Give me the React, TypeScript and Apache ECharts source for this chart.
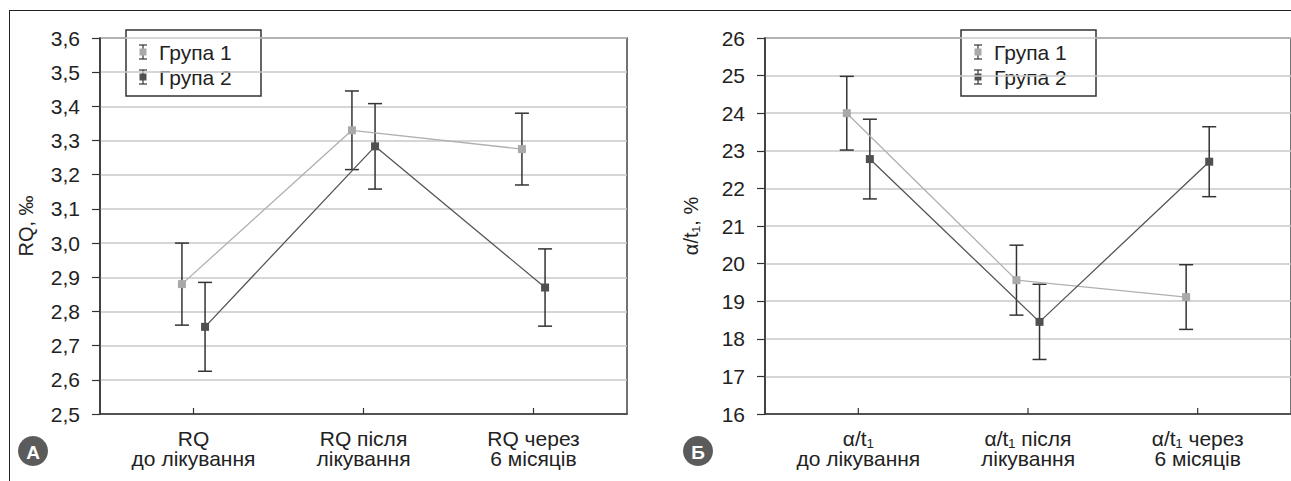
import React, { useEffect, useRef } from "react";
import * as echarts from "echarts";

// ---- data ----
const categoriesA = ["RQ\nдо лікування", "RQ після\nлікування", "RQ через\n6 місяців"];
const categoriesB = ["α/t₁\nдо лікування", "α/t₁ після\nлікування", "α/t₁ через\n6 місяців"];
const seriesNames = ["Група 1", "Група 2"];
const panelLetters = ["А", "Б"];

const rqGroup1 = [2.88, 3.33, 3.275];
const rqGroup1Err = [0.12, 0.115, 0.105];
const rqGroup2 = [2.755, 3.283, 2.87];
const rqGroup2Err = [0.13, 0.125, 0.113];

const atGroup1 = [24.0, 19.56, 19.11];
const atGroup1Err = [0.98, 0.93, 0.86];
const atGroup2 = [22.78, 18.45, 22.71];
const atGroup2Err = [1.06, 1.0, 0.93];

const yTicksA = [2.5, 3.6, 0.1];
const yTicksB = [16, 26, 1];

// ---- styling ----
const FONT = "Liberation Sans, Arial, sans-serif";
const FS = 21;
const TXT = "#222";
const C1 = "#a9a9ab";
const C2 = "#505050";
const L1 = "#b0b0b0";
const L2 = "#555555";
const ERR = "#333";
const OFFSET = 0.068;

const pts = (vals: number[], off: number) => vals.map((v, i) => [i + off, v]);
const errs = (vals: number[], e: number[], off: number) =>
  vals.map((v, i) => [i + off, v - e[i], v + e[i]]);
const tickData = (cats: string[], yMin: number) => cats.map((_, i) => [i, yMin]);

const renderErr = (params: any, api: any) => {
  const x = api.value(0);
  const lo = api.value(1);
  const hi = api.value(2);
  const t = api.coord([x, hi]);
  const b = api.coord([x, lo]);
  const w = 7;
  const style = { stroke: ERR, lineWidth: 1.5 };
  return {
    type: "group",
    children: [
      { type: "line", shape: { x1: t[0], y1: t[1], x2: b[0], y2: b[1] }, style },
      { type: "line", shape: { x1: t[0] - w, y1: t[1], x2: t[0] + w, y2: t[1] }, style },
      { type: "line", shape: { x1: b[0] - w, y1: b[1], x2: b[0] + w, y2: b[1] }, style },
    ],
  };
};

// category tick + label, placed through the axis scales
const makeCatRender = (cats: string[]) => (params: any, api: any) => {
  const p = api.coord([api.value(0), api.value(1)]);
  return {
    type: "group",
    children: [
      {
        type: "line",
        shape: { x1: p[0], y1: p[1], x2: p[0], y2: p[1] - 6 },
        style: { stroke: "#333", lineWidth: 1.2 },
      },
      {
        type: "text",
        x: p[0],
        y: p[1] + 14,
        style: {
          text: cats[params.dataIndex],
          fill: TXT,
          font: `${FS}px ${FONT}`,
          align: "center",
          verticalAlign: "top",
          lineHeight: 20,
        },
      },
    ],
  };
};

const legendGraphic = (x0: number, y0: number) => {
  const children: any[] = [
    {
      type: "rect",
      shape: { x: x0, y: y0, width: 135, height: 66 },
      style: { fill: "#fff", stroke: "#333", lineWidth: 1.5 },
    },
  ];
  const colors = [C1, C2];
  [0, 1].forEach((i) => {
    const cy = y0 + 22 + i * 25;
    const cx = x0 + 17;
    const st = { stroke: ERR, lineWidth: 1.2, fill: "none" };
    children.push(
      { type: "polyline", shape: { points: [[cx - 4, cy - 7], [cx + 4, cy - 7]] }, style: st },
      { type: "polyline", shape: { points: [[cx, cy - 7], [cx, cy + 7]] }, style: st },
      { type: "polyline", shape: { points: [[cx - 4, cy + 7], [cx + 4, cy + 7]] }, style: st },
      { type: "rect", shape: { x: cx - 3.5, y: cy - 3.5, width: 7, height: 7 }, style: { fill: colors[i] } },
      {
        type: "text",
        x: x0 + 33,
        y: cy,
        style: {
          text: seriesNames[i],
          font: `${FS}px ${FONT}`,
          fill: TXT,
          verticalAlign: "middle",
        },
      }
    );
  });
  return children;
};

const badge = (cx: number, cy: number, letter: string) => [
  { type: "circle", z: 100, shape: { cx, cy, r: 15 }, style: { fill: "#5b5b5b" } },
  {
    type: "text",
    z: 101,
    x: cx,
    y: cy + 1,
    style: {
      text: letter,
      fill: "#fff",
      font: `bold 19px ${FONT}`,
      align: "center",
      verticalAlign: "middle",
    },
  },
];

export default function App() {
  const ref = useRef<HTMLDivElement>(null);
  useEffect(() => {
    if (!ref.current) return;
    const chart = echarts.init(ref.current, null, { renderer: "svg" });

    const xAxisBase = (gridIndex: number) => ({
      type: "value",
      gridIndex,
      min: -0.55,
      max: 2.55,
      splitLine: { show: false },
      axisLine: { show: true, onZero: false, lineStyle: { color: "#333", width: 1.5 } },
      axisTick: { show: false },
      axisLabel: { show: false },
    });

    const yAxisBase = (gridIndex: number, r: number[], fmt: (v: number) => string, name: string) => ({
      type: "value",
      gridIndex,
      min: r[0],
      max: r[1],
      interval: r[2],
      name,
      nameLocation: "middle",
      nameGap: 64,
      nameRotate: 90,
      nameTextStyle: { color: TXT, fontFamily: FONT, fontSize: 20 },
      axisLine: { show: true, onZero: false, lineStyle: { color: "#333", width: 1.5 } },
      axisTick: { show: true, length: 8, lineStyle: { color: "#333", width: 1.2 } },
      axisLabel: { color: TXT, fontFamily: FONT, fontSize: FS, margin: 20, formatter: fmt },
      splitLine: { show: true, lineStyle: { color: "#c9c9c9", width: 1.5 } },
    });

    const lineSeries = (name: string, data: number[][], idx: number, color: string, lcolor: string) => ({
      type: "line",
      name,
      xAxisIndex: idx,
      yAxisIndex: idx,
      data,
      symbol: "rect",
      symbolSize: 8,
      itemStyle: { color },
      lineStyle: { color: lcolor, width: 1.3 },
      z: 5,
    });
    const errSeries = (data: number[][], idx: number) => ({
      type: "custom",
      xAxisIndex: idx,
      yAxisIndex: idx,
      data,
      encode: { x: 0, y: [1, 2] },
      renderItem: renderErr,
      z: 3,
    });
    const catSeries = (cats: string[], yMin: number, idx: number) => ({
      type: "custom",
      xAxisIndex: idx,
      yAxisIndex: idx,
      data: tickData(cats, yMin),
      encode: { x: 0, y: 1 },
      renderItem: makeCatRender(cats),
      clip: false,
      silent: true,
      z: 2,
    });

    chart.setOption({
      animation: false,
      textStyle: { fontFamily: FONT },
      grid: [
        { left: 100, top: 38, width: 527, height: 376, show: true, borderColor: "#444", borderWidth: 1.5, backgroundColor: "transparent" },
        { left: 765, top: 38, width: 527, height: 376, show: true, borderColor: "#444", borderWidth: 1.5, backgroundColor: "transparent" },
      ],
      xAxis: [xAxisBase(0), xAxisBase(1)],
      yAxis: [
        yAxisBase(0, yTicksA, (v: number) => v.toFixed(1).replace(".", ","), "RQ, ‰"),
        yAxisBase(1, yTicksB, (v: number) => String(v), "α/t₁, %"),
      ],
      series: [
        catSeries(categoriesA, yTicksA[0], 0),
        catSeries(categoriesB, yTicksB[0], 1),
        errSeries(errs(rqGroup1, rqGroup1Err, -OFFSET), 0),
        errSeries(errs(rqGroup2, rqGroup2Err, OFFSET), 0),
        lineSeries(seriesNames[0], pts(rqGroup1, -OFFSET), 0, C1, L1),
        lineSeries(seriesNames[1], pts(rqGroup2, OFFSET), 0, C2, L2),
        errSeries(errs(atGroup1, atGroup1Err, -OFFSET), 1),
        errSeries(errs(atGroup2, atGroup2Err, OFFSET), 1),
        lineSeries(seriesNames[0], pts(atGroup1, -OFFSET), 1, C1, L1),
        lineSeries(seriesNames[1], pts(atGroup2, OFFSET), 1, C2, L2),
      ],
      graphic: {
        elements: [
          ...legendGraphic(126, 30),
          ...legendGraphic(961, 30),
          ...badge(33, 451, panelLetters[0]),
          ...badge(698, 451, panelLetters[1]),
        ],
      },
    });
    return () => chart.dispose();
  }, []);

  return (
    <div style={{ position: "absolute", left: 0, top: 0, width: 1291, height: 481, background: "#fff" }}>
      <div
        style={{
          position: "absolute",
          left: 9,
          top: 10,
          width: 1290,
          height: 480,
          borderTop: "1.5px solid #222",
          borderLeft: "1.5px solid #222",
        }}
      />
      <div ref={ref} style={{ position: "absolute", left: 0, top: 0, width: 1291, height: 481 }} />
    </div>
  );
}
